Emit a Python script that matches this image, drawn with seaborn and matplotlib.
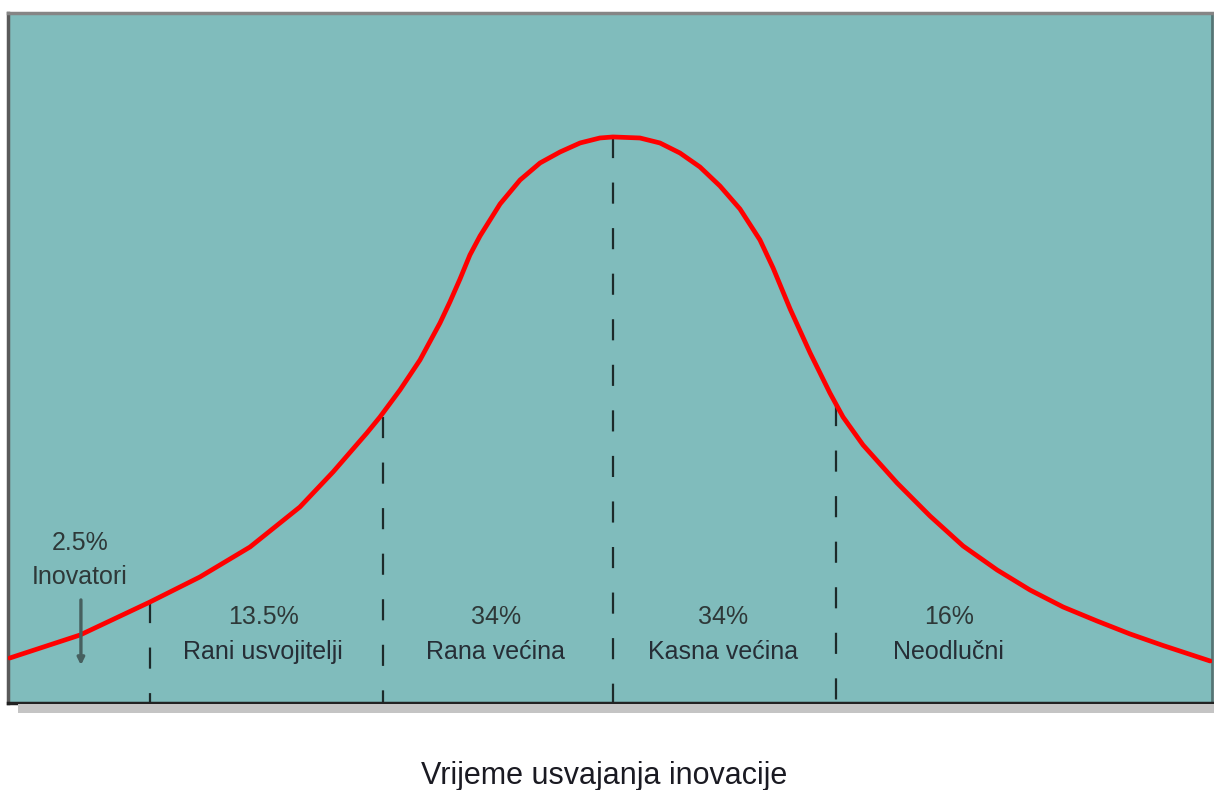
import numpy as np
import pandas as pd
import matplotlib
matplotlib.use("Agg")
import matplotlib.pyplot as plt
from matplotlib.patches import Rectangle
import seaborn as sns

# curve (x in standard deviations, y relative to peak)
curve_x = [-2.622, -2.317, -2.013, -1.796, -1.578, -1.361, -1.217, -1.070, -1.013,
           -0.926, -0.839, -0.752, -0.709, -0.665, -0.622, -0.578, -0.491, -0.404,
           -0.317, -0.230, -0.143, -0.057, 0.0, 0.117, 0.204, 0.291, 0.378, 0.465,
           0.552, 0.639, 0.696, 0.770, 0.857, 0.943, 1.000, 1.087, 1.235, 1.378,
           1.522, 1.670, 1.813, 1.957, 2.104, 2.248, 2.391, 2.596]
curve_y = [0.0795, 0.1201, 0.1784, 0.2226, 0.2756, 0.3463, 0.4081, 0.4770, 0.5053,
           0.5530, 0.6060, 0.6714, 0.7085, 0.7491, 0.7915, 0.8251, 0.8816, 0.9240,
           0.9541, 0.9735, 0.9894, 0.9982, 1.0, 0.9982, 0.9894, 0.9717, 0.9470, 0.9134,
           0.8728, 0.8180, 0.7686, 0.6961, 0.6184, 0.5477, 0.5053, 0.4558, 0.3887, 0.3304,
           0.2774, 0.2350, 0.1996, 0.1696, 0.1449, 0.1219, 0.1016, 0.0742]

# segment borders and where the dashes meet the curve
dividers = [-2.013, -1.0, 0.0, 0.970]
divider_tops = [0.178, 0.505, 1.0, 0.527]

shares = ["2.5%", "13.5%", "34%", "34%", "16%"]
groups = ["Inovatori", "Rani usvojitelji", "Rana većina", "Kasna većina", "Neodlučni"]
label_x = [-2.317, -1.52, -0.51, 0.48, 1.46]

df = pd.DataFrame({"x": curve_x, "y": curve_y})

sns.set_style("white")
plt.rcParams["font.family"] = ["Liberation Sans", "DejaVu Sans"]

W, H = 1214, 790
fig = plt.figure(figsize=(W / 100, H / 100), dpi=100)
ax = fig.add_axes([8 / W, 87 / H, 1204 / W, 690 / H])

# shadow under the box
fig.patches.append(Rectangle((18 / W, 77 / H), 1196 / W, 9 / H, transform=fig.transFigure,
                             facecolor="#c4c4c4", edgecolor="none", zorder=0))

ax.set_facecolor("#80bcbc")
ax.set_xlim(-2.630, 2.604)
ax.set_ylim(0, 1.219)

for xv, top in zip(dividers, divider_tops):
    ax.plot([xv, xv], [top, 0], color="#1c2a2a", lw=1.6, dashes=(9.5, 11), zorder=2)

sns.lineplot(data=df, x="x", y="y", color="#ff0000", linewidth=3.4, ax=ax, zorder=3,
             solid_joinstyle="round", solid_capstyle="round")

for i, (s, g) in enumerate(zip(shares, groups)):
    if i == 0:
        ax.text(label_x[i], 0.283, s, ha="center", va="center", fontsize=18, color="#2e3838")
        ax.text(label_x[i], 0.223, g, ha="center", va="center", fontsize=18, color="#2e3838")
    else:
        ax.text(label_x[i], 0.152, s, ha="center", va="center", fontsize=18, color="#2e3838")
        ax.text(label_x[i], 0.090, g, ha="center", va="center", fontsize=18, color="#262e36")

ax.annotate("", xy=(-2.313, 0.062), xytext=(-2.313, 0.187),
            arrowprops=dict(arrowstyle="-|>", color="#46605f", lw=2.4, mutation_scale=10))

ax.set_xticks([])
ax.set_yticks([])
ax.set_xlabel("")
ax.set_ylabel("")

ax.spines["left"].set_color("#5a5a5a")
ax.spines["left"].set_linewidth(2.5)
ax.spines["top"].set_color("#858585")
ax.spines["top"].set_linewidth(2.5)
ax.spines["bottom"].set_color("#222222")
ax.spines["bottom"].set_linewidth(2.5)
ax.spines["right"].set_color("#557575")
ax.spines["right"].set_linewidth(2)

fig.text(604 / W, 1 - 776 / H, "Vrijeme usvajanja inovacije", ha="center", va="center",
         fontsize=22, color="#1a1a22")

fig.savefig("out.png", dpi=100, facecolor="white")
